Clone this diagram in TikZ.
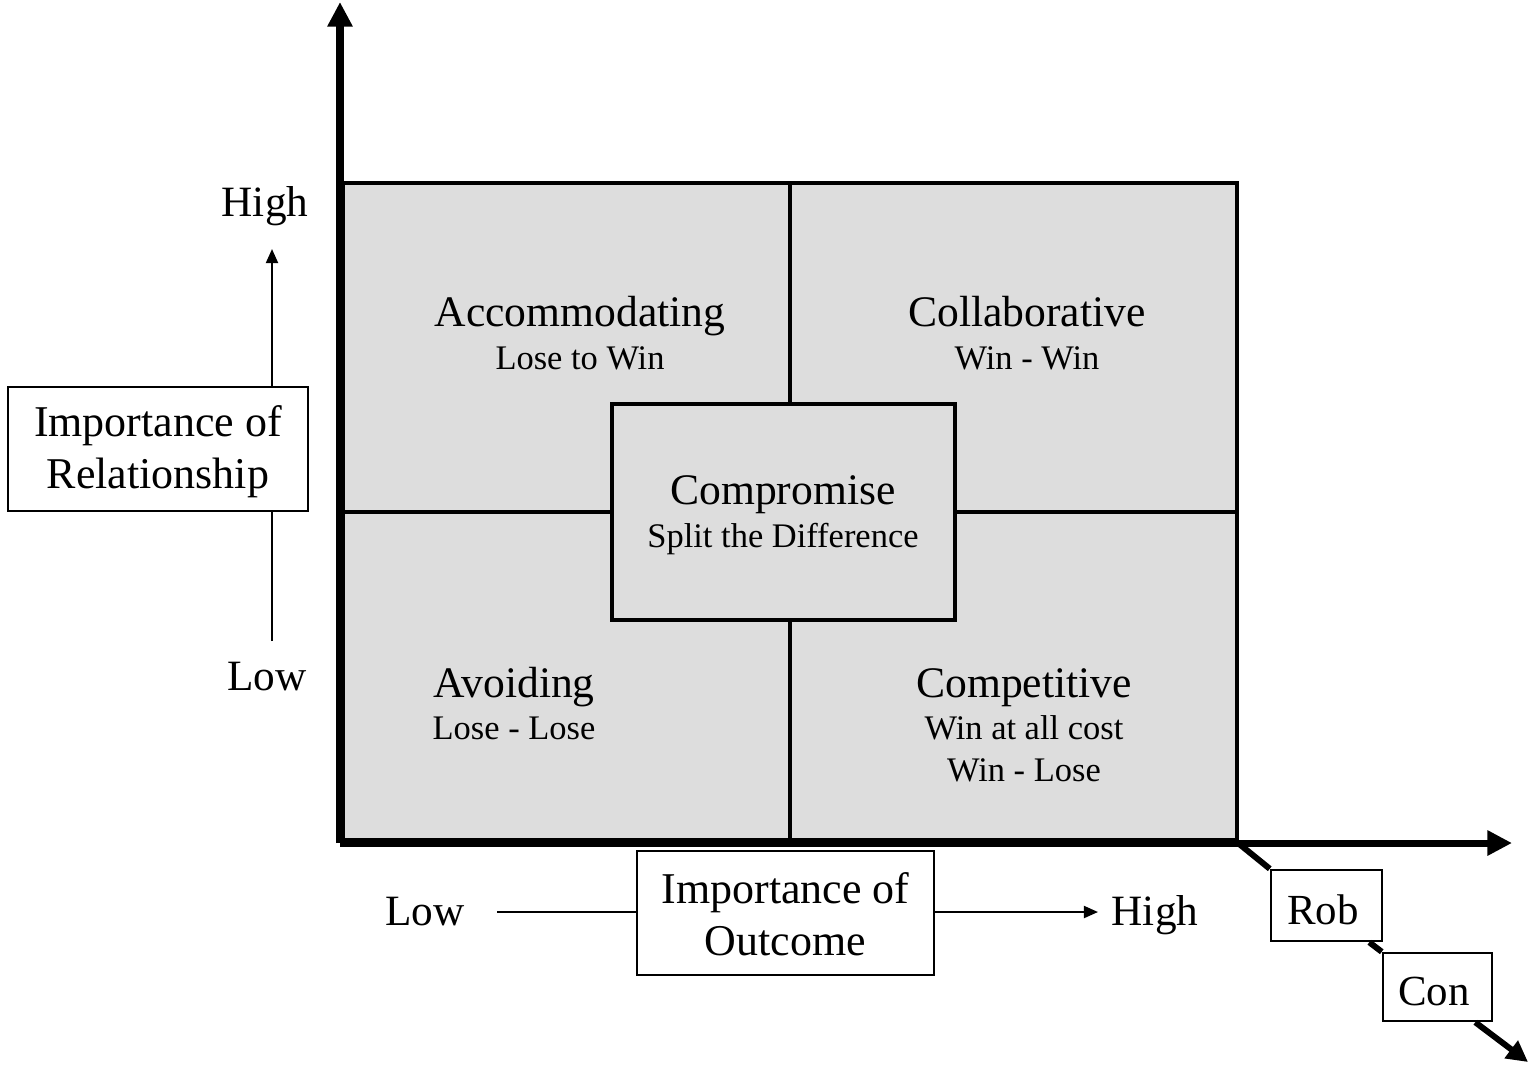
\documentclass[tikz,border=0pt]{standalone}
\usepackage{fontspec}
\setmainfont{Liberation Serif}
\usetikzlibrary{arrows.meta,calc}
\definecolor{cellgray}{RGB}{221,221,221}
\begin{document}
\begin{tikzpicture}[x=0.01cm,y=-0.01cm,
  axis/.style={line width=2pt,-{Triangle[length=7pt,width=6.8pt]}},
  gridline/.style={line width=1.1pt},
  labelbox/.style={draw,line width=0.6pt,inner sep=0pt},
  boxtext/.style={align=center,inner sep=0pt,font=\fontsize{12.5}{14.7}\selectfont},
  tagbox/.style={draw,line width=0.7pt,inner sep=0pt},
  tagtext/.style={anchor=base,inner sep=0pt,font=\fontsize{12.2}{14}\selectfont},
  thin arrow/.style={line width=0.6pt,-{Triangle[length=4pt,width=3.4pt]}},
  diag/.style={line width=1.7pt},
  title/.style={anchor=base,font=\fontsize{12.4}{14}\selectfont,inner sep=0pt},
  sub/.style={anchor=base,font=\fontsize{9.8}{12}\selectfont,inner sep=0pt},
  axislabel/.style={anchor=base,font=\fontsize{12.3}{14}\selectfont,inner sep=0pt}]
\useasboundingbox (0,0) rectangle (1537,1066);

% quadrant grid
\coordinate (gNW) at (343,183);
\coordinate (gSE) at (1237,840);
\coordinate (gMid) at (790,512);
\fill[cellgray] (gNW) rectangle (gSE);
\draw[gridline] (gNW) rectangle (gSE);
\draw[gridline] (gMid |- gNW) -- (gMid |- gSE);
\draw[gridline] (gMid -| gNW) -- (gMid -| gSE);

% axes
\coordinate (O) at (340,843);
\coordinate (ytip) at (340,2);
\coordinate (xtip) at (1512,843);
\draw[axis] (O) -- (ytip);
\draw[axis] (O) -- (xtip);

% quadrant texts
\node[title] (accT) at (580,326) {Accommodating};
\node[sub]   (accS) at (580,369) {Lose to Win};
\node[title] (colT) at (1027,326) {Collaborative};
\node[sub]   (colS) at (1027,369) {Win - Win};
\node[title] (avoT) at (514,697) {Avoiding};
\node[sub]   (avoS) at (514,739) {Lose - Lose};
\node[title] (cmpT) at (1024,697) {Competitive};
\node[sub]   (cmpS) at (1024,739) {Win at all cost};
\node[sub]   (cmpL) at (1024,781) {Win - Lose};

% central box
\node[draw,gridline,fill=cellgray,minimum width=3.43cm,minimum height=2.16cm,inner sep=0pt]
  (comp) at (783.5,512) {};
\node[title] (compT) at (783,504) {Compromise};
\node[sub]   (compS) at (783,547) {Split the Difference};

% vertical scale
\node[axislabel] (yHigh) at (265,216) {High};
\node[axislabel] (yLow)  at (267,690) {Low};
\node[labelbox,minimum width=3.0cm,minimum height=1.24cm] (rel) at (158,449) {};
\node[boxtext] (relT) at ($(rel.center)+(0,3)$) {Importance of\\Relationship};
\coordinate (vLow) at (272,641);
\coordinate (vHigh) at (272,249);
\draw[line width=0.6pt] (vLow) -- (vLow |- rel.south);
\draw[thin arrow] (vLow |- rel.north) -- (vHigh);

% horizontal scale
\node[axislabel] (xLow)  at (425,925) {Low};
\node[axislabel] (xHigh) at (1155,925) {High};
\node[labelbox,minimum width=2.97cm,minimum height=1.24cm] (out) at (785.5,913) {};
\node[boxtext] (outT) at ($(out.center)+(0,1)$) {Importance of\\Outcome};
\coordinate (hLow) at (497,912);
\coordinate (hHigh) at (1098,912);
\draw[line width=0.6pt] (hLow) -- (hLow -| out.west);
\draw[thin arrow] (hLow -| out.east) -- (hHigh);

% diagonal axis
\node[tagbox,minimum width=1.11cm,minimum height=0.71cm] (rob) at (1326.5,905.5) {};
\node[tagtext] (robT) at (1323,924) {Rob};
\node[tagbox,minimum width=1.09cm,minimum height=0.68cm] (con) at (1437.5,987) {};
\node[tagtext] (conT) at (1434,1005) {Con};
\coordinate (dStart) at (1238,843);
\coordinate (dTip) at (1528,1062);
\draw[diag] (dStart) -- (rob.north west);
\draw[diag] (rob.south east) ++(-14,0) -- (con.north west);
\draw[diag,-{Triangle[length=6pt,width=6pt]}] (con.south east) ++(-18,0) -- (dTip);
\end{tikzpicture}
\end{document}
